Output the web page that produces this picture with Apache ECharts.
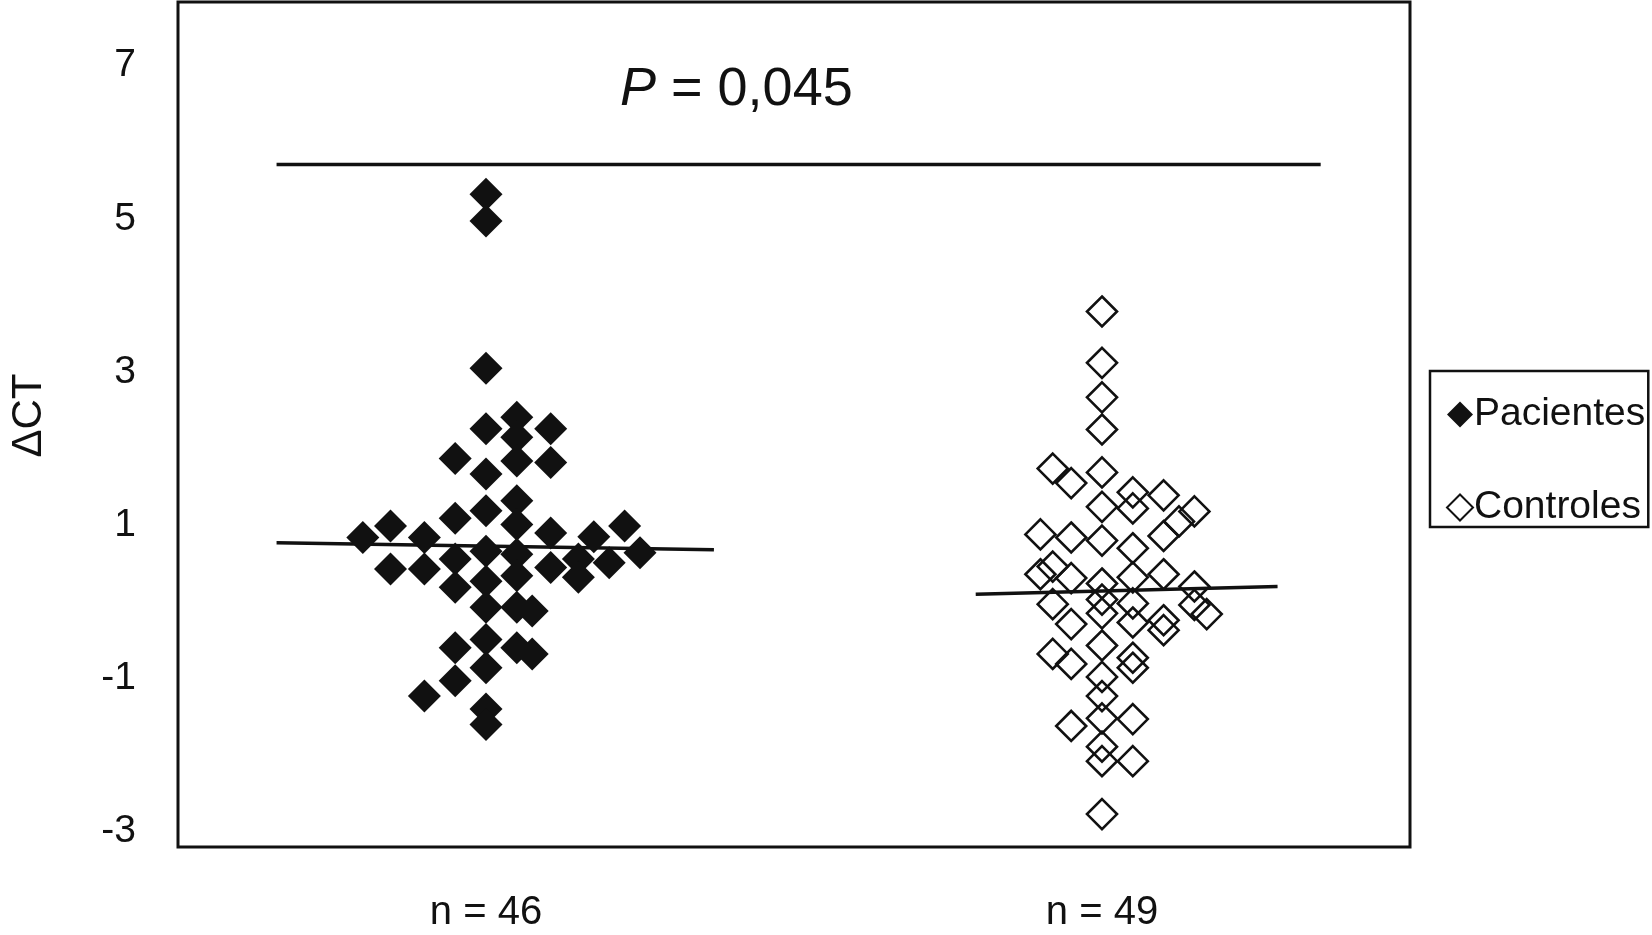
<!DOCTYPE html>
<html>
<head>
<meta charset="utf-8">
<title>ΔCT Pacientes / Controles</title>
<script src="https://cdn.jsdelivr.net/npm/echarts@6.0.0/dist/echarts.min.js"></script>
<style>
  html, body { margin: 0; padding: 0; background: #fff; }
  #chart { width: 1652px; height: 935px; }
</style>
</head>
<body>
<div id="chart"></div>
<script>
// gráfico de dispersão ΔCT
var chart = echarts.init(document.getElementById('chart'));

// pacientes (losangos cheios): [posição x, ΔCT]
var pacientes = [
    [1.00, 5.32], [1.00, 4.97], [1.00, 3.05], [1.10, 2.41], [1.00, 2.26],
    [1.21, 2.26], [1.10, 2.15], [0.90, 1.87], [1.00, 1.67], [1.10, 1.84],
    [1.21, 1.82], [1.10, 1.32], [1.00, 1.19], [0.90, 1.09], [1.10, 1.01],
    [0.60, 0.84], [0.69, 0.99], [0.80, 0.84], [1.21, 0.90], [1.35, 0.85],
    [1.45, 0.99], [1.50, 0.64], [0.69, 0.43], [0.80, 0.43], [0.90, 0.19],
    [0.90, 0.56], [1.10, 0.62], [1.10, 0.34], [1.21, 0.45], [1.30, 0.56],
    [1.30, 0.32], [1.40, 0.51], [1.00, -0.07], [1.10, -0.07], [1.15, -0.12],
    [1.00, -0.49], [0.90, -0.60], [1.10, -0.60], [1.15, -0.68], [1.00, -0.86],
    [0.90, -1.03], [0.80, -1.23], [1.00, -1.40], [1.00, -1.60], [1.00, 0.66],
    [1.00, 0.27]
];

// controles (losangos vazios)
var controles = [
    [3.00, 3.79], [3.00, 3.12], [3.00, 2.67], [3.00, 2.25], [2.84, 1.74],
    [2.90, 1.55], [3.00, 1.69], [3.10, 1.43], [3.10, 1.22], [3.20, 1.39],
    [3.30, 1.18], [3.00, 1.24], [3.25, 1.05], [2.80, 0.88], [2.90, 0.84],
    [3.00, 0.80], [3.10, 0.70], [3.20, 0.86], [2.80, 0.36], [2.84, 0.46],
    [2.90, 0.31], [3.00, 0.24], [3.10, 0.32], [3.20, 0.36], [3.30, 0.20],
    [2.84, -0.03], [2.90, -0.29], [3.00, -0.15], [3.10, -0.02], [3.10, -0.27],
    [3.20, -0.24], [3.20, -0.37], [3.30, -0.04], [3.34, -0.16], [3.00, -0.57],
    [2.84, -0.68], [2.90, -0.81], [3.10, -0.73], [3.10, -0.86], [3.00, -0.98],
    [3.00, -1.23], [2.90, -1.62], [3.00, -1.52], [3.10, -1.53], [3.00, -1.89],
    [3.00, -2.08], [3.10, -2.08], [3.00, -2.77], [3.00, 0.03]
];

// linhas das médias e linha do teste
var mediaPacientes = [[0.32, 0.77], [1.74, 0.68]];
var mediaControles = [[2.59, 0.10], [3.57, 0.20]];
var linhaTeste = [[0.32, 5.71], [3.71, 5.71]];

// rótulos dos eixos
var yTicks = [-3, -1, 1, 3, 5, 7];
var xGrupos = [1, 3];
var xRotulos = ['n = 46', 'n = 49'];
var textoP = 'P';
var textoValor = ' = 0,045';

var fonte = 'Liberation Sans, Arial, sans-serif';

function linha(nome, dados) {
    return {
        name: nome,
        type: 'line',
        data: dados,
        symbol: 'none',
        silent: true,
        lineStyle: { color: '#111', width: 3.5 },
        z: 1
    };
}

var option = {
    backgroundColor: '#fff',
    animation: false,
    grid: {
        left: 172,
        right: 242,
        top: 2,
        bottom: 88,
        show: true,
        borderColor: '#111',
        borderWidth: 3
    },
    legend: {
        data: ['Pacientes', 'Controles'],
        orient: 'vertical',
        left: 1430,
        top: 371,
        padding: [24, 3, 0, 16],
        itemGap: 54,
        itemWidth: 26,
        itemHeight: 26,
        borderColor: '#111',
        borderWidth: 2.5,
        textStyle: { fontFamily: fonte, fontSize: 39, color: '#111', lineHeight: 36, padding: [0, 0, 0, -4] }
    },
    xAxis: {
        type: 'value',
        min: 0,
        max: 4,
        splitLine: { show: false },
        axisLine: { show: false },
        axisTick: { show: false },
        axisLabel: {
            customValues: xGrupos,
            margin: 46,
            fontFamily: fonte,
            fontSize: 40,
            color: '#111',
            formatter: function (v) {
                return xRotulos[xGrupos.indexOf(v)] || '';
            }
        }
    },
    yAxis: {
        type: 'value',
        min: -3.2,
        max: 7.83,
        name: 'ΔCT',
        nameLocation: 'middle',
        nameRotate: 90,
        nameGap: 128,
        nameTextStyle: { fontFamily: fonte, fontSize: 42, color: '#111', padding: [0, 0, 0, 18] },
        splitLine: { show: false },
        axisLine: { show: false },
        axisTick: { show: false },
        axisLabel: {
            customValues: yTicks,
            margin: 42,
            fontFamily: fonte,
            fontSize: 39,
            color: '#111'
        }
    },
    graphic: [{
        type: 'text',
        left: 620,
        top: 63,
        style: {
            text: '{i|' + textoP + '}' + textoValor,
            fontFamily: fonte,
            fontSize: 54,
            fill: '#111',
            rich: {
                i: { fontFamily: fonte, fontSize: 54, fontStyle: 'italic', fill: '#111' }
            }
        }
    }],
    series: [
        linha('linhaTeste', linhaTeste),
        linha('mediaPacientes', mediaPacientes),
        linha('mediaControles', mediaControles),
        {
            name: 'Pacientes',
            type: 'scatter',
            data: pacientes,
            symbol: 'diamond',
            symbolSize: 33,
            itemStyle: { color: '#111', opacity: 1 },
            z: 3
        },
        {
            name: 'Controles',
            type: 'scatter',
            data: controles,
            symbol: 'diamond',
            symbolSize: 30,
            itemStyle: { color: 'rgba(255,255,255,0)', borderColor: '#111', borderWidth: 2.6, opacity: 1 },
            z: 3
        }
    ]
};

chart.setOption(option);
</script>
</body>
</html>
